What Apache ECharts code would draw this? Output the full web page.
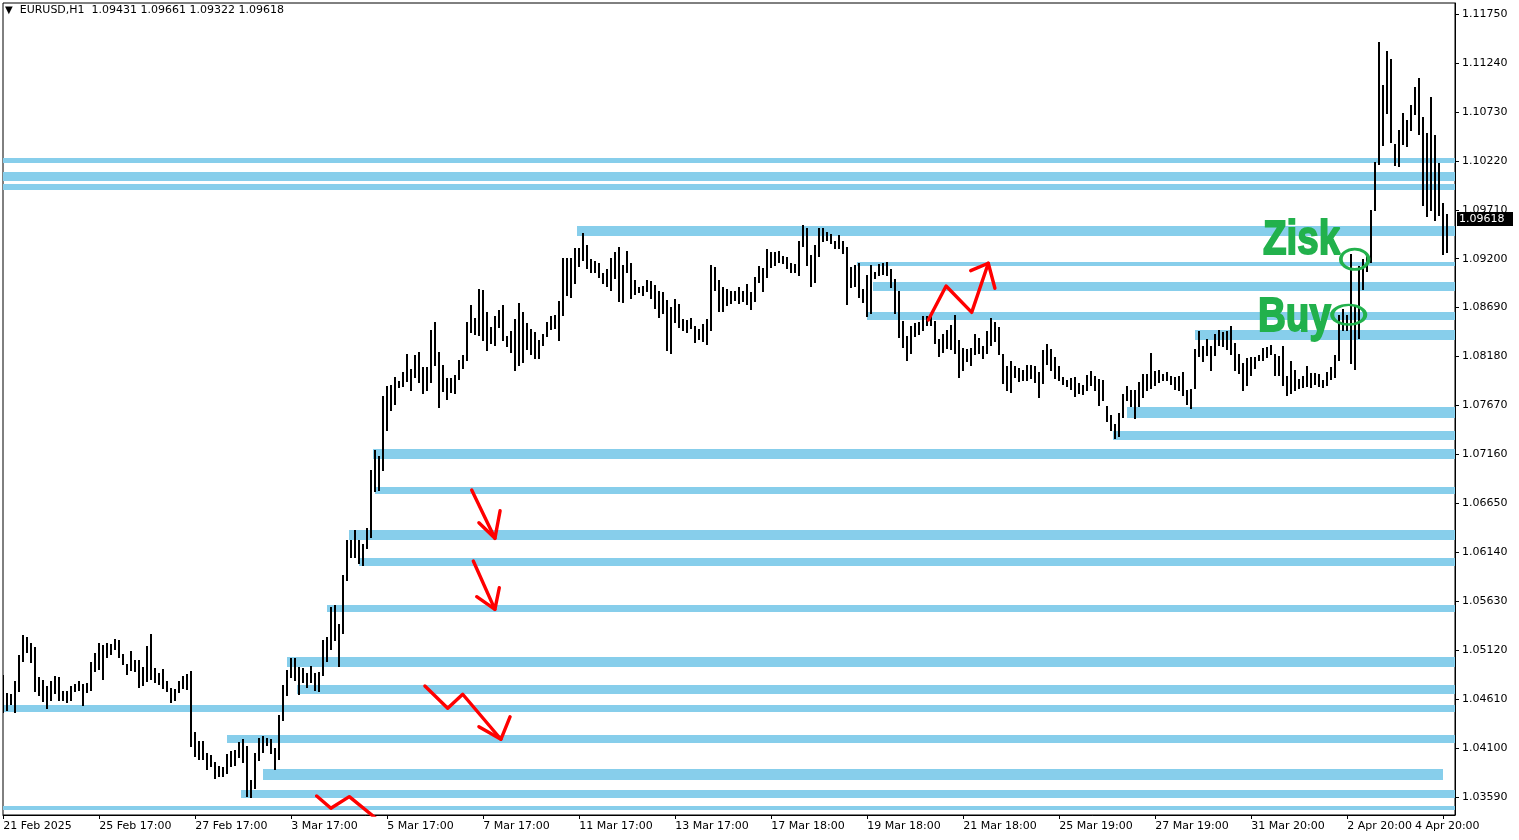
<!DOCTYPE html>
<html><head><meta charset="utf-8">
<script src="https://cdn.jsdelivr.net/npm/echarts@6/dist/echarts.min.js"></script>
<style>html,body{margin:0;padding:0;background:#fff}#c{width:1519px;height:840px}</style>
</head><body><div id="c"></div><script>
// ---------- DATA ----------
const symbolName = 'EURUSD,H1';
const lastBar = [1.09431, 1.09661, 1.09322, 1.09618]; // O H L C of the latest bar
const timeLabels = ['21 Feb 2025','25 Feb 17:00','27 Feb 17:00','3 Mar 17:00','5 Mar 17:00','7 Mar 17:00',
  '11 Mar 17:00','13 Mar 17:00','17 Mar 18:00','19 Mar 18:00','21 Mar 18:00','25 Mar 19:00',
  '27 Mar 19:00','31 Mar 20:00','2 Apr 20:00','4 Apr 20:00'];
const yTicks = [1.03590,1.04100,1.04610,1.05120,1.05630,1.06140,1.06650,1.07160,1.07670,
  1.08180,1.08690,1.09200,1.09710,1.10220,1.10730,1.11240,1.11750];
// bar highs / lows in pips above 1.0000 (one bar per two hours)
const highPips = [
486,467,466,480,507,528,526,520,515,484, 481,475,480,485,484,469,469,475,477,480,
477,478,500,509,520,517,519,518,524,523, 508,498,511,502,502,495,516,529,493,488,
492,480,473,472,480,485,487,490,427,417, 417,405,403,395,391,390,404,407,408,416,
419,412,377,405,421,423,421,419,410,444, 476,491,504,504,494,493,488,496,488,489,
523,526,557,559,539,590,627,627,637,627, 623,639,700,721,714,777,787,788,797,793,
802,821,805,820,823,807,807,846,854,823, 809,796,796,799,814,820,854,872,858,888,
887,864,849,860,867,872,839,845,857,874, 864,853,847,844,835,842,854,860,861,876,
921,921,921,931,931,947,934,920,918,915, 905,909,921,927,932,913,928,915,898,891,
892,898,897,893,886,885,877,870,878,873, 857,856,858,850,847,852,857,913,911,898,
891,888,886,886,890,886,894,885,901,912, 910,930,927,927,928,923,922,916,914,938,
955,952,924,934,952,952,948,946,938,945, 938,932,911,913,915,888,903,913,906,914,
916,917,909,899,886,855,839,850,853,854, 860,860,860,855,836,842,846,851,861,835,
827,826,827,842,837,829,845,858,854,849, 821,808,813,808,806,804,809,809,808,802,
825,831,826,818,808,797,794,796,797,790, 788,799,803,798,795,794,767,757,748,759,
779,787,783,783,792,800,800,822,803,804, 800,802,798,797,798,802,783,784,826,845,
829,836,829,842,846,844,845,850,832,821, 811,817,818,818,820,827,828,830,821,819,
829,798,813,804,795,798,808,801,801,800, 794,802,807,820,861,868,861,925,871,912,
920,923,971,1021,1146,1101,1136,1128,1040,1054, 1072,1065,1080,1099,1108,1068,1051,1089,1049,1020,
978,967];
const lowPips = [
448,450,456,448,470,501,510,500,469,465, 459,452,460,467,460,460,458,460,470,471,
455,468,471,490,492,482,505,508,513,505, 498,487,491,490,474,476,480,482,479,477,
473,469,458,460,468,473,472,412,402,399, 399,388,391,379,381,381,384,391,392,401,
396,360,359,368,398,406,413,405,388,399, 439,465,484,481,466,479,474,479,471,470,
486,501,513,523,496,530,585,609,609,603, 601,618,630,678,679,700,741,762,769,786,
787,793,783,797,792,780,783,792,809,765, 782,774,781,780,795,806,814,844,842,840,
835,825,832,830,849,835,829,823,804,809, 812,826,821,817,817,830,839,847,848,835,
861,882,880,895,912,919,910,906,906,901, 895,892,887,900,876,875,906,879,883,885,
882,886,879,869,859,863,825,822,854,849, 846,844,848,833,836,834,831,846,887,865,
865,872,874,877,874,876,873,868,876,896, 886,901,911,913,917,915,910,906,906,903,
933,913,892,896,923,938,939,936,931,931, 926,873,891,892,880,875,860,863,900,903,
904,903,891,863,838,828,814,822,839,842, 846,851,851,832,819,823,827,826,822,797,
804,813,809,821,822,817,822,830,834,821, 790,783,781,797,793,794,794,796,792,776,
790,810,804,796,794,789,787,784,777,780, 779,783,788,783,768,773,751,742,733,735,
755,773,767,754,767,776,783,785,788,791, 794,794,789,784,783,778,769,764,785,819,
813,820,804,820,830,829,826,821,804,801, 783,788,799,806,814,814,818,821,799,799,
788,778,780,783,785,786,787,786,789,787, 786,788,795,797,814,846,846,811,805,837,
888,907,917,971,1019,1038,1072,1042,1018,1017, 1040,1037,1054,1071,1050,976,964,971,960,966,
925,927];
// support / resistance zones (start bar, end bar (null = open to the right), top price, bottom price)
const zoneFrom   = [0,0,0,144.4,214.4,218.4,216.9,298.9,281.9,278.4,93.4,93.9,87.4,89.9,81.9,71.9,74.4,0,56.9,65.9,60.4,0];
const zoneTo     = [null,null,null,null,null,null,null,null,null,null,null,null,null,null,null,null,null,null,null,360.9,null,null];
const zoneTop    = [1.1025,1.1010,1.0998,1.0954,1.0917,1.0896,1.0864,1.0846,1.0765,1.0740,1.0722,1.0682,1.0637,1.0608,1.0559,1.0505,1.0476,1.0455,1.0424,1.0388,1.0366,1.0350];
const zoneBottom = [1.1020,1.1001,1.0992,1.0944,1.0912,1.0886,1.0856,1.0835,1.0754,1.0731,1.0711,1.0675,1.0627,1.0600,1.0552,1.0495,1.0466,1.0448,1.0415,1.0377,1.0358,1.0346];
// hand-drawn red arrows: polylines of [bar, price]
const arrowA = [[[118.1,1.06790],[123.9,1.06286],[125.2,1.06574]], [[119.9,1.06449],[123.9,1.06286]]];
const arrowB = [[[118.5,1.06050],[123.9,1.05546],[125.0,1.05771]], [[119.35,1.05678],[123.9,1.05546]]];
const arrowC = [[[106.4,1.04747],[112.1,1.04515],[115.85,1.04661],[125.4,1.04192],[127.7,1.04427]], [[119.9,1.04323],[125.4,1.04192]]];
const arrowD = [[[79.35,1.03601],[82.9,1.03473],[87.5,1.03594],[97.7,1.03247]]];
const arrowE = [[[232.25,1.08561],[236.7,1.08915],[243.1,1.08641],[247.25,1.09152],[248.9,1.08892]], [[242.85,1.09075],[247.25,1.09152]]];
// green notes
const noteText = ['Zisk','Buy'];
const notePos  = [[315.93,1.09392],[314.68,1.08587]];
const ringPos  = [[338.85,1.09194],[337.35,1.08616]];

// ---------- LAYOUT ----------
const X_MIN = 0.925, X_MAX = 363.925;
const Y_MIN = 1.034028, Y_MAX = 1.118646;
const BARS_PER_LABEL = 24;
const tickPos = timeLabels.map((_, j) => 1 + BARS_PER_LABEL * j);
const labelPos = tickPos.slice(); labelPos[labelPos.length - 1] -= 7.1; // last label pulled inside
const ringSize = [[27.7, 20.3], [33, 19.7]];
const FONT = 'DejaVu Sans';
const GREEN = '#22B14C';
const BAR_WIDTH = 2;

const bars = highPips.map((h, i) => [i + 1, 1 + h / 1e4, 1 + lowPips[i] / 1e4]);
const zones = zoneFrom.map((f, i) => [f, zoneTo[i] == null ? X_MAX + 2 : zoneTo[i], zoneTop[i], zoneBottom[i]]);

const arrowSeries = [];
[arrowA, arrowB, arrowC, arrowD, arrowE].forEach(a => a.forEach(poly => arrowSeries.push({
  type: 'line', data: poly, symbol: 'none', z: 6, silent: true, clip: true,
  lineStyle: { color: '#ff0000', width: 3.4, cap: 'round', join: 'round', opacity: 1 }
})));

const chart = echarts.init(document.getElementById('c'), null, { renderer: 'canvas' });
chart.setOption({
  animation: false,
  backgroundColor: '#ffffff',
  title: {
    text: '{t|▼}  ' + symbolName + '  ' + lastBar.map(v => v.toFixed(5)).join(' '),
    left: 5, top: 5, padding: 0,
    textStyle: { fontSize: 11, fontFamily: FONT, fontWeight: 'normal', color: '#000',
      rich: { t: { fontSize: 10, color: '#000', fontFamily: FONT } } }
  },
  grid: { left: 3, right: 64, top: 3, bottom: 25, show: true, borderColor: '#000', borderWidth: 1, backgroundColor: '#fff' },
  xAxis: {
    type: 'value', min: X_MIN, max: X_MAX,
    axisLine: { show: true, onZero: false, lineStyle: { color: '#000', width: 1 } },
    axisTick: { show: true, customValues: tickPos, length: 4, lineStyle: { color: '#000' } },
    axisLabel: { customValues: labelPos, align: 'left', margin: 6, color: '#000', fontSize: 11, fontFamily: FONT,
      formatter: v => { const j = labelPos.findIndex(p => Math.abs(p - v) < 1e-6); return j >= 0 ? timeLabels[j] : ''; } },
    splitLine: { show: false }
  },
  yAxis: {
    type: 'value', position: 'right', min: Y_MIN, max: Y_MAX,
    axisLine: { show: true, onZero: false, lineStyle: { color: '#000', width: 1 } },
    axisTick: { show: true, customValues: yTicks, length: 4, lineStyle: { color: '#000' } },
    axisLabel: { customValues: yTicks, margin: 7, color: '#000', fontSize: 11, fontFamily: FONT, formatter: v => v.toFixed(5) },
    splitLine: { show: false }
  },
  series: [
    {
      type: 'custom', z: 1, silent: true, clip: true, data: zones,
      renderItem: (params, api) => {
        const a = api.coord([api.value(0), api.value(2)]);
        const b = api.coord([api.value(1), api.value(3)]);
        return { type: 'rect', shape: { x: Math.round(a[0]), y: Math.round(a[1]), width: Math.round(b[0]) - Math.round(a[0]), height: Math.max(1, Math.round(b[1]) - Math.round(a[1])) },
          style: { fill: '#87CEEB' } };
      }
    },
    {
      type: 'custom', z: 3, silent: true, clip: true, data: bars,
      encode: { x: 0, y: [1, 2] },
      renderItem: (params, api) => {
        const p1 = api.coord([api.value(0), api.value(1)]);
        const p2 = api.coord([api.value(0), api.value(2)]);
        const x = Math.round(p1[0]);
        return { type: 'line', shape: { x1: x, y1: Math.round(p1[1]), x2: x, y2: Math.round(p2[1]) + 1 },
          style: { stroke: '#000', lineWidth: BAR_WIDTH } };
      }
    },
    ...arrowSeries,
    {
      type: 'scatter', z: 7, silent: true,
      data: ringPos.map((p, i) => ({ value: p, symbolSize: ringSize[i] })),
      symbol: 'circle',
      itemStyle: { color: 'rgba(0,0,0,0)', borderColor: GREEN, borderWidth: 3.2, opacity: 1 }
    },
    {
      type: 'custom', z: 7, silent: true, clip: false,
      data: notePos.map((p, i) => [p[0], p[1], i]),
      renderItem: (params, api) => {
        const p = api.coord([api.value(0), api.value(1)]);
        return { type: 'text', x: p[0], y: p[1], scaleX: 0.82, scaleY: 1.04,
          style: { text: noteText[api.value(2)], font: 'bold 47px "Liberation Sans"', fill: GREEN,
            stroke: GREEN, lineWidth: 1.8, align: 'left', verticalAlign: 'middle' } };
      }
    },
    {
      type: 'custom', z: 8, silent: true, clip: false,
      data: [[X_MAX, lastBar[3]]],
      renderItem: (params, api) => {
        const p = api.coord([api.value(0), api.value(1)]);
        const y = Math.round(p[1]);
        return { type: 'group', children: [
          { type: 'rect', shape: { x: p[0] + 2, y: y - 7, width: 56, height: 14 }, style: { fill: '#000' } },
          { type: 'text', x: p[0] + 4, y: y, style: { text: lastBar[3].toFixed(5), font: '11px "DejaVu Sans"', fill: '#fff', align: 'left', verticalAlign: 'middle' } }
        ] };
      }
    }
  ]
});
</script></body></html>
